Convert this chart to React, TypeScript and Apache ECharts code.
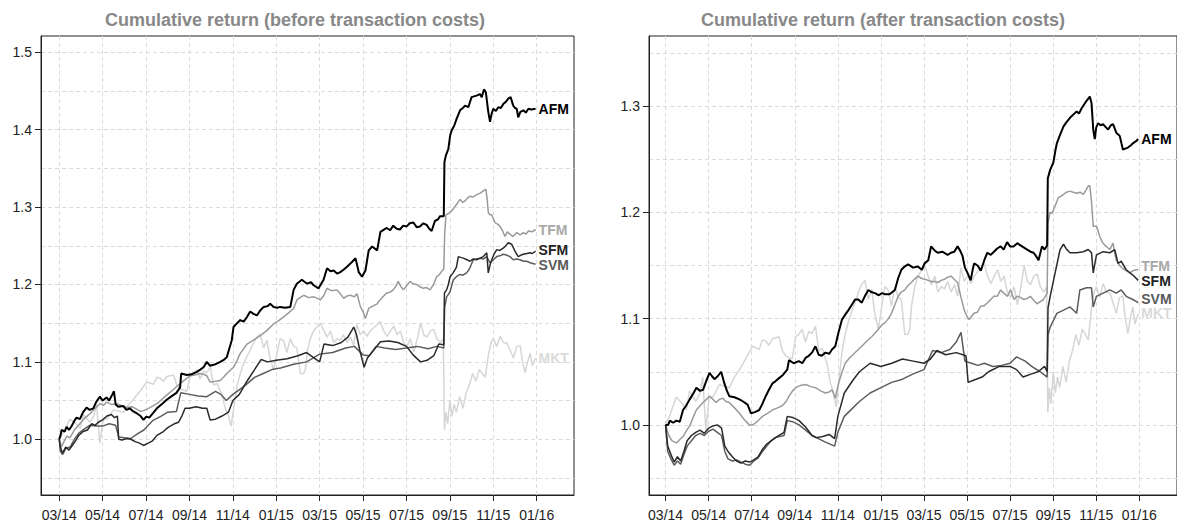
import { useEffect, useRef } from 'react';
import * as echarts from 'echarts';

// x values are months since March 2014 (0 = 03/14), y values are cumulative returns
const monthLabels = ['03/14', '05/14', '07/14', '09/14', '11/14', '01/15', '03/15', '05/15', '07/15', '09/15', '11/15', '01/16'];
const seriesNames = ['AFM', 'TFM', 'SFM', 'SVM', 'MKT'];
const titles = ['Cumulative return (before transaction costs)', 'Cumulative return (after transaction costs)'];
const yGridLeft = [0.95, 1.0, 1.05, 1.1, 1.15, 1.2, 1.25, 1.3, 1.35, 1.4, 1.45, 1.5];
const yTicksLeft = [1.0, 1.1, 1.2, 1.3, 1.4, 1.5];
const yGridRight = [0.95, 1.0, 1.05, 1.1, 1.15, 1.2, 1.25, 1.3, 1.35];
const yTicksRight = [1.0, 1.1, 1.2, 1.3];

const afmBefore = [[0,1.000],[0.05,1.004],[0.11,1.012],[0.25,1.010],[0.34,1.016],[0.45,1.012],[0.57,1.017],[0.7,1.024],[0.8,1.028],[0.95,1.026],[1.1,1.035],[1.26,1.041],[1.4,1.038],[1.57,1.040],[1.7,1.048],[1.87,1.055],[2.0,1.050],[2.18,1.054],[2.3,1.050],[2.45,1.058],[2.52,1.062],[2.6,1.045],[2.72,1.042],[2.95,1.043],[3.1,1.038],[3.25,1.040],[3.41,1.036],[3.6,1.033],[3.75,1.030],[3.88,1.025],[4.0,1.029],[4.15,1.028],[4.33,1.034],[4.5,1.040],[4.75,1.046],[4.95,1.051],[5.2,1.056],[5.4,1.060],[5.57,1.067],[5.62,1.085],[5.88,1.083],[6.1,1.084],[6.34,1.087],[6.5,1.09],[6.65,1.093],[6.8,1.100],[6.95,1.095],[7.2,1.097],[7.42,1.100],[7.6,1.103],[7.72,1.106],[7.95,1.128],[8.03,1.145],[8.2,1.15],[8.34,1.154],[8.5,1.152],[8.65,1.158],[8.8,1.165],[8.95,1.162],[9.11,1.160],[9.25,1.166],[9.42,1.171],[9.6,1.172],[9.72,1.175],[9.88,1.171],[10.05,1.17],[10.18,1.171],[10.4,1.17],[10.65,1.171],[10.8,1.193],[10.95,1.201],[11.18,1.206],[11.42,1.201],[11.6,1.203],[11.72,1.199],[11.95,1.195],[12.18,1.206],[12.34,1.221],[12.5,1.217],[12.65,1.218],[12.8,1.214],[12.95,1.216],[13.1,1.219],[13.26,1.223],[13.49,1.229],[13.65,1.234],[13.8,1.216],[13.95,1.210],[14.11,1.218],[14.26,1.244],[14.42,1.249],[14.65,1.244],[14.8,1.268],[15.09,1.273],[15.25,1.270],[15.39,1.276],[15.55,1.272],[15.7,1.271],[15.85,1.276],[16.01,1.275],[16.15,1.279],[16.32,1.280],[16.47,1.274],[16.62,1.275],[16.78,1.279],[16.93,1.277],[17.05,1.272],[17.16,1.269],[17.31,1.282],[17.45,1.284],[17.54,1.288],[17.72,1.288],[17.75,1.358],[17.81,1.366],[17.93,1.375],[18.01,1.392],[18.08,1.399],[18.2,1.405],[18.31,1.414],[18.47,1.425],[18.6,1.428],[18.7,1.431],[18.85,1.429],[19.0,1.442],[19.23,1.444],[19.39,1.446],[19.47,1.442],[19.57,1.452],[19.66,1.448],[19.77,1.423],[19.85,1.410],[19.92,1.42],[20.0,1.427],[20.12,1.424],[20.23,1.429],[20.35,1.428],[20.46,1.433],[20.58,1.436],[20.69,1.440],[20.8,1.442],[20.92,1.431],[21.0,1.428],[21.08,1.427],[21.15,1.416],[21.25,1.423],[21.39,1.425],[21.5,1.422],[21.62,1.427],[21.75,1.426],[21.95,1.427]];

const tfmBefore = [[0,1.0],[0.1,0.99],[0.2,0.996],[0.35,1.004],[0.5,1.002],[0.7,1.012],[0.95,1.02],[1.2,1.028],[1.42,1.033],[1.65,1.04],[1.88,1.046],[2.05,1.044],[2.18,1.048],[2.4,1.045],[2.65,1.046],[2.9,1.043],[3.11,1.041],[3.35,1.042],[3.57,1.039],[3.75,1.036],[3.88,1.037],[4.05,1.039],[4.18,1.041],[4.5,1.046],[4.75,1.052],[4.95,1.057],[5.25,1.064],[5.57,1.072],[5.8,1.077],[6.03,1.082],[6.25,1.083],[6.49,1.085],[6.65,1.084],[6.8,1.082],[6.95,1.074],[7.2,1.075],[7.42,1.076],[7.6,1.081],[7.72,1.085],[8.03,1.093],[8.2,1.102],[8.34,1.111],[8.5,1.117],[8.65,1.123],[8.95,1.128],[9.26,1.134],[9.55,1.14],[9.88,1.149],[10.1,1.153],[10.34,1.158],[10.55,1.163],[10.8,1.169],[10.95,1.180],[11.1,1.183],[11.26,1.186],[11.5,1.183],[11.72,1.184],[11.9,1.182],[12.03,1.180],[12.2,1.186],[12.34,1.195],[12.55,1.192],[12.8,1.193],[12.95,1.188],[13.11,1.182],[13.25,1.185],[13.42,1.186],[13.6,1.184],[13.72,1.188],[13.88,1.171],[14.0,1.165],[14.11,1.156],[14.26,1.169],[14.45,1.172],[14.65,1.175],[14.78,1.180],[14.95,1.185],[15.09,1.189],[15.25,1.19],[15.39,1.193],[15.52,1.198],[15.62,1.204],[15.75,1.197],[15.86,1.193],[16.0,1.198],[16.16,1.204],[16.3,1.201],[16.47,1.200],[16.62,1.197],[16.78,1.195],[16.93,1.196],[17.08,1.193],[17.25,1.2],[17.39,1.210],[17.5,1.212],[17.62,1.217],[17.72,1.22],[17.76,1.265],[17.82,1.290],[17.95,1.292],[18.08,1.295],[18.24,1.301],[18.35,1.305],[18.47,1.310],[18.6,1.306],[18.7,1.308],[18.82,1.312],[18.93,1.314],[19.08,1.313],[19.23,1.316],[19.4,1.318],[19.54,1.321],[19.66,1.323],[19.72,1.31],[19.77,1.293],[19.85,1.29],[19.93,1.290],[20.0,1.285],[20.08,1.280],[20.2,1.278],[20.31,1.275],[20.42,1.27],[20.54,1.262],[20.65,1.268],[20.77,1.265],[20.9,1.262],[21.08,1.267],[21.23,1.264],[21.39,1.267],[21.5,1.265],[21.62,1.269],[21.78,1.268],[21.95,1.271]];

const sfmBefore = [[0,1.0],[0.05,0.99],[0.15,0.982],[0.3,0.99],[0.45,0.986],[0.6,0.992],[0.75,0.998],[0.9,1.005],[1.1,1.01],[1.3,1.012],[1.5,1.02],[1.65,1.018],[1.8,1.022],[2.0,1.025],[2.2,1.03],[2.4,1.032],[2.55,1.028],[2.68,1.03],[2.74,1.0],[2.9,0.999],[3.1,1.001],[3.3,1.0],[3.5,0.997],[3.7,0.995],[3.88,0.992],[4.1,0.995],[4.3,0.998],[4.5,1.005],[4.8,1.01],[5.0,1.015],[5.3,1.02],[5.5,1.022],[5.65,1.03],[5.8,1.04],[6.0,1.04],[6.3,1.042],[6.6,1.04],[6.8,1.04],[6.95,1.025],[7.2,1.026],[7.5,1.03],[7.8,1.035],[8.0,1.05],[8.3,1.058],[8.65,1.075],[9.0,1.09],[9.3,1.103],[9.6,1.1],[10.0,1.102],[10.5,1.104],[11.0,1.108],[11.4,1.112],[11.8,1.104],[12.0,1.1],[12.2,1.123],[12.6,1.121],[13.0,1.125],[13.3,1.132],[13.57,1.145],[13.7,1.135],[13.85,1.115],[14.05,1.093],[14.2,1.105],[14.4,1.112],[14.8,1.126],[15.2,1.127],[15.6,1.125],[16.0,1.12],[16.34,1.108],[16.65,1.1],[16.95,1.102],[17.26,1.108],[17.49,1.123],[17.72,1.122],[17.75,1.189],[17.85,1.193],[17.93,1.2],[18.01,1.210],[18.15,1.215],[18.3,1.222],[18.39,1.236],[18.5,1.235],[18.62,1.234],[18.78,1.232],[18.93,1.230],[19.08,1.233],[19.23,1.232],[19.39,1.234],[19.54,1.236],[19.7,1.241],[19.77,1.215],[19.85,1.225],[19.93,1.232],[20.05,1.24],[20.16,1.245],[20.3,1.244],[20.46,1.247],[20.58,1.25],[20.69,1.254],[20.85,1.252],[21.0,1.243],[21.15,1.236],[21.28,1.238],[21.39,1.239],[21.55,1.24],[21.69,1.241],[21.8,1.24],[21.95,1.243]];

const svmBefore = [[0,1.0],[0.05,0.985],[0.15,0.98],[0.3,0.988],[0.5,0.99],[0.7,1.0],[0.9,1.008],[1.1,1.012],[1.4,1.018],[1.7,1.017],[2.0,1.017],[2.3,1.02],[2.6,1.018],[2.74,1.003],[3.0,1.002],[3.3,1.001],[3.6,1.007],[3.9,1.012],[4.3,1.024],[4.7,1.03],[5.0,1.035],[5.4,1.036],[5.6,1.06],[6.0,1.058],[6.4,1.056],[6.8,1.055],[7.2,1.062],[7.45,1.058],[7.7,1.05],[8.0,1.058],[8.5,1.068],[9.0,1.08],[9.4,1.085],[9.8,1.09],[10.2,1.092],[10.8,1.097],[11.4,1.1],[12.0,1.11],[12.6,1.112],[13.2,1.118],[13.6,1.12],[14.0,1.109],[14.3,1.108],[14.6,1.12],[15.0,1.118],[15.5,1.116],[16.0,1.118],[16.5,1.12],[17.0,1.117],[17.4,1.12],[17.72,1.118],[17.76,1.17],[17.85,1.184],[18.0,1.19],[18.16,1.206],[18.3,1.21],[18.47,1.213],[18.6,1.212],[18.77,1.215],[18.9,1.22],[19.08,1.232],[19.23,1.233],[19.39,1.234],[19.55,1.233],[19.7,1.236],[19.85,1.228],[20.0,1.232],[20.16,1.236],[20.3,1.237],[20.46,1.239],[20.6,1.238],[20.77,1.236],[20.92,1.232],[21.08,1.233],[21.23,1.232],[21.4,1.23],[21.54,1.230],[21.7,1.228],[21.95,1.226]];

const mkt = [[0,1.0],[0.18,1.008],[0.49,1.026],[0.74,1.021],[0.97,1.014],[1.11,1.032],[1.41,1.022],[1.6,1.03],[1.72,1.045],[1.87,0.995],[2.03,1.027],[2.2,1.026],[2.5,1.038],[2.96,1.035],[3.2,1.045],[3.43,1.052],[3.72,1.062],[4.04,1.074],[4.35,1.071],[4.49,1.08],[4.65,1.079],[4.8,1.075],[4.96,1.081],[5.11,1.082],[5.27,1.083],[5.42,1.07],[5.58,1.065],[5.88,1.062],[6.04,1.083],[6.18,1.085],[6.34,1.09],[6.49,1.078],[6.65,1.088],[6.8,1.086],[6.96,1.093],[7.11,1.07],[7.27,1.072],[7.49,1.058],[7.65,1.04],[7.8,1.03],[7.92,1.017],[8.05,1.042],[8.2,1.07],[8.34,1.085],[8.5,1.098],[8.65,1.107],[8.8,1.115],[8.96,1.125],[9.1,1.132],[9.26,1.136],[9.42,1.118],[9.57,1.128],[9.72,1.104],[9.88,1.09],[10.03,1.11],[10.18,1.13],[10.34,1.127],[10.49,1.112],[10.65,1.13],[10.8,1.12],[10.95,1.118],[11.11,1.085],[11.26,1.085],[11.34,1.09],[11.42,1.112],[11.57,1.13],[11.72,1.14],[11.87,1.145],[12.03,1.15],[12.2,1.14],[12.34,1.132],[12.5,1.14],[12.65,1.125],[12.8,1.13],[12.95,1.128],[13.1,1.135],[13.26,1.125],[13.42,1.132],[13.56,1.121],[13.72,1.148],[13.87,1.135],[14.03,1.14],[14.18,1.133],[14.33,1.14],[14.49,1.144],[14.64,1.148],[14.8,1.152],[14.95,1.14],[15.11,1.133],[15.26,1.14],[15.42,1.146],[15.57,1.135],[15.72,1.14],[15.87,1.125],[16.03,1.12],[16.18,1.13],[16.34,1.113],[16.5,1.13],[16.65,1.15],[16.8,1.135],[16.95,1.132],[17.1,1.14],[17.26,1.142],[17.4,1.13],[17.57,1.125],[17.7,1.13],[17.75,1.012],[17.82,1.035],[17.9,1.02],[18.0,1.05],[18.1,1.03],[18.2,1.045],[18.3,1.035],[18.45,1.055],[18.6,1.04],[18.75,1.06],[18.9,1.07],[19.05,1.085],[19.2,1.075],[19.35,1.09],[19.5,1.085],[19.63,1.08],[19.78,1.11],[19.9,1.125],[20.01,1.13],[20.16,1.12],[20.32,1.133],[20.47,1.125],[20.63,1.124],[20.78,1.115],[20.93,1.105],[21.08,1.12],[21.24,1.121],[21.35,1.1],[21.47,1.086],[21.58,1.1],[21.7,1.111],[21.8,1.095],[21.95,1.105]];

const afmAfter = [[0,1.0],[0.12,1.0],[0.2,1.004],[0.35,1.002],[0.5,1.004],[0.66,1.003],[0.81,1.014],[0.95,1.018],[1.12,1.024],[1.3,1.03],[1.43,1.035],[1.6,1.032],[1.74,1.033],[1.9,1.042],[2.04,1.049],[2.15,1.046],[2.27,1.043],[2.43,1.046],[2.58,1.050],[2.65,1.045],[2.73,1.039],[2.85,1.032],[2.96,1.027],[3.2,1.026],[3.43,1.024],[3.6,1.022],[3.81,1.019],[3.96,1.011],[4.15,1.012],[4.35,1.014],[4.5,1.02],[4.65,1.027],[4.8,1.033],[4.96,1.039],[5.1,1.041],[5.27,1.044],[5.45,1.047],[5.65,1.052],[5.73,1.061],[5.95,1.058],[6.19,1.060],[6.35,1.058],[6.5,1.063],[6.65,1.065],[6.8,1.068],[6.96,1.074],[7.11,1.066],[7.25,1.065],[7.42,1.068],[7.6,1.067],[7.73,1.071],[7.88,1.074],[8.03,1.087],[8.19,1.099],[8.35,1.104],[8.49,1.108],[8.65,1.113],[8.8,1.118],[8.95,1.118],[9.11,1.115],[9.25,1.121],[9.42,1.127],[9.55,1.125],[9.72,1.124],[9.9,1.122],[10.05,1.124],[10.18,1.123],[10.4,1.123],[10.65,1.127],[10.8,1.138],[10.95,1.146],[11.1,1.149],[11.26,1.151],[11.5,1.148],[11.72,1.149],[11.9,1.146],[12.03,1.152],[12.2,1.155],[12.33,1.168],[12.5,1.164],[12.64,1.162],[12.85,1.163],[13.1,1.160],[13.25,1.162],[13.41,1.163],[13.56,1.168],[13.68,1.164],[13.79,1.159],[13.9,1.148],[14.02,1.143],[14.17,1.136],[14.25,1.145],[14.33,1.152],[14.49,1.15],[14.64,1.145],[14.8,1.155],[14.94,1.162],[15.1,1.16],[15.25,1.163],[15.4,1.166],[15.56,1.168],[15.7,1.165],[15.86,1.172],[16.0,1.168],[16.17,1.168],[16.33,1.171],[16.48,1.169],[16.63,1.167],[16.79,1.165],[16.95,1.163],[17.09,1.162],[17.2,1.159],[17.32,1.155],[17.48,1.168],[17.6,1.165],[17.72,1.169],[17.75,1.232],[17.86,1.240],[18.01,1.247],[18.1,1.258],[18.17,1.265],[18.3,1.272],[18.48,1.281],[18.62,1.285],[18.78,1.289],[18.93,1.292],[19.09,1.295],[19.2,1.293],[19.32,1.298],[19.45,1.302],[19.55,1.305],[19.7,1.309],[19.78,1.303],[19.86,1.278],[19.93,1.269],[20.0,1.28],[20.09,1.284],[20.2,1.282],[20.32,1.283],[20.45,1.28],[20.55,1.278],[20.68,1.282],[20.78,1.283],[20.93,1.275],[21.09,1.272],[21.17,1.265],[21.24,1.259],[21.35,1.26],[21.47,1.261],[21.6,1.263],[21.7,1.265],[21.85,1.267],[21.95,1.269]];

const tfmAfter = [[0,1.0],[0.15,0.99],[0.3,0.985],[0.51,0.983],[0.65,0.986],[0.81,0.989],[0.95,0.994],[1.12,0.999],[1.3,1.008],[1.43,1.014],[1.6,1.018],[1.74,1.021],[1.9,1.024],[2.04,1.027],[2.2,1.024],[2.35,1.021],[2.5,1.024],[2.66,1.025],[2.8,1.022],[2.96,1.021],[3.2,1.016],[3.43,1.011],[3.65,1.005],[3.89,1.0],[4.05,1.0],[4.19,1.002],[4.35,1.005],[4.5,1.008],[4.75,1.011],[4.96,1.014],[5.2,1.016],[5.42,1.018],[5.6,1.022],[5.73,1.027],[5.9,1.032],[6.04,1.035],[6.25,1.037],[6.5,1.038],[6.75,1.036],[6.96,1.035],[7.2,1.032],[7.42,1.030],[7.6,1.031],[7.73,1.033],[7.88,1.025],[8.03,1.039],[8.2,1.05],[8.34,1.058],[8.5,1.062],[8.65,1.065],[8.9,1.07],[9.11,1.074],[9.35,1.079],[9.57,1.083],[9.75,1.087],[9.88,1.090],[10.05,1.094],[10.18,1.096],[10.35,1.1],[10.49,1.105],[10.65,1.113],[10.8,1.121],[10.95,1.125],[11.11,1.127],[11.25,1.131],[11.41,1.134],[11.55,1.137],[11.72,1.140],[11.87,1.138],[12.03,1.137],[12.2,1.136],[12.33,1.135],[12.5,1.135],[12.64,1.134],[12.8,1.136],[12.95,1.137],[13.1,1.139],[13.26,1.140],[13.4,1.137],[13.56,1.134],[13.72,1.12],[13.87,1.108],[14.0,1.102],[14.1,1.099],[14.2,1.102],[14.33,1.105],[14.48,1.106],[14.64,1.112],[14.79,1.112],[14.95,1.115],[15.1,1.118],[15.25,1.121],[15.4,1.121],[15.56,1.127],[15.71,1.124],[15.87,1.121],[16.02,1.127],[16.18,1.118],[16.32,1.121],[16.48,1.12],[16.63,1.118],[16.8,1.119],[16.94,1.121],[17.1,1.117],[17.25,1.114],[17.4,1.116],[17.55,1.118],[17.72,1.124],[17.76,1.19],[17.85,1.2],[17.94,1.199],[18.09,1.206],[18.24,1.214],[18.35,1.215],[18.48,1.217],[18.62,1.219],[18.78,1.22],[18.93,1.219],[19.09,1.218],[19.25,1.219],[19.4,1.217],[19.52,1.221],[19.63,1.225],[19.7,1.225],[19.78,1.21],[19.86,1.187],[20.01,1.187],[20.17,1.177],[20.28,1.172],[20.4,1.169],[20.52,1.167],[20.63,1.165],[20.78,1.171],[20.85,1.162],[20.93,1.155],[21.08,1.15],[21.24,1.147],[21.4,1.145],[21.55,1.143],[21.7,1.145],[21.85,1.146],[21.95,1.146]];

const sfmAfter = [[0,1.0],[0.1,0.98],[0.25,0.972],[0.4,0.965],[0.55,0.97],[0.7,0.966],[0.85,0.975],[1.0,0.985],[1.2,0.99],[1.4,0.993],[1.6,0.995],[1.8,0.992],[2.0,0.997],[2.2,0.999],[2.4,1.0],[2.6,0.997],[2.75,0.98],[2.9,0.975],[3.1,0.97],[3.3,0.966],[3.5,0.964],[3.7,0.966],[3.9,0.965],[4.1,0.967],[4.3,0.97],[4.5,0.977],[4.7,0.982],[4.9,0.985],[5.1,0.988],[5.5,0.993],[5.65,1.008],[5.9,1.007],[6.2,1.004],[6.5,0.998],[6.8,0.99],[7.0,0.988],[7.3,0.989],[7.6,0.991],[7.85,0.987],[8.0,1.008],[8.3,1.03],[8.7,1.042],[9.0,1.05],[9.5,1.058],[10.0,1.055],[10.5,1.058],[11.0,1.062],[11.5,1.06],[12.0,1.058],[12.3,1.062],[12.6,1.07],[13.0,1.066],[13.5,1.068],[13.95,1.065],[14.05,1.04],[14.3,1.042],[14.7,1.045],[15.0,1.05],[15.5,1.055],[16.0,1.055],[16.3,1.052],[16.6,1.045],[17.0,1.048],[17.3,1.05],[17.6,1.055],[17.72,1.05],[17.76,1.11],[17.86,1.121],[18.09,1.143],[18.32,1.165],[18.48,1.17],[18.63,1.165],[18.78,1.162],[19.09,1.162],[19.4,1.163],[19.63,1.165],[19.78,1.162],[19.86,1.143],[20.01,1.16],[20.32,1.163],[20.63,1.162],[20.86,1.165],[21.01,1.152],[21.16,1.154],[21.39,1.146],[21.7,1.141],[21.95,1.136]];

const svmAfter = [[0,1.0],[0.1,0.975],[0.25,0.968],[0.4,0.962],[0.55,0.966],[0.7,0.963],[0.85,0.972],[1.0,0.98],[1.2,0.985],[1.4,0.99],[1.6,0.992],[1.8,0.99],[2.0,0.994],[2.2,0.996],[2.4,0.993],[2.6,0.99],[2.75,0.975],[2.9,0.968],[3.1,0.966],[3.3,0.967],[3.5,0.965],[3.7,0.963],[3.9,0.962],[4.1,0.966],[4.3,0.969],[4.5,0.975],[4.7,0.98],[4.9,0.985],[5.1,0.988],[5.5,0.99],[5.65,1.004],[5.9,1.003],[6.2,1.0],[6.5,0.995],[6.8,0.99],[7.1,0.987],[7.4,0.984],[7.85,0.98],[8.0,0.993],[8.3,1.008],[8.7,1.016],[9.0,1.022],[9.5,1.03],[10.0,1.035],[10.5,1.04],[11.0,1.043],[11.5,1.048],[12.0,1.052],[12.4,1.07],[12.8,1.068],[13.2,1.071],[13.5,1.078],[13.72,1.087],[13.9,1.06],[14.2,1.058],[14.5,1.056],[14.8,1.058],[15.2,1.055],[15.6,1.056],[16.0,1.058],[16.3,1.064],[16.7,1.06],[17.0,1.055],[17.4,1.05],[17.72,1.045],[17.76,1.085],[17.86,1.092],[18.17,1.105],[18.48,1.108],[18.78,1.111],[19.09,1.105],[19.24,1.127],[19.55,1.129],[19.78,1.129],[19.86,1.111],[20.01,1.121],[20.32,1.124],[20.63,1.127],[20.93,1.124],[21.16,1.127],[21.39,1.121],[21.7,1.118],[21.95,1.115]];

const panelData = [
  [afmBefore, tfmBefore, sfmBefore, svmBefore, mkt],
  [afmAfter, tfmAfter, sfmAfter, svmAfter, mkt],
];

const FONT = '"Liberation Sans", Arial, Helvetica, sans-serif';
const lineColors: Record<string, string> = { AFM: '#000000', TFM: '#9a9a9a', SFM: '#2a2a2a', SVM: '#5c5c5c', MKT: '#d6d6d6' };
const labelColors: Record<string, string> = { AFM: '#000000', TFM: '#a8a8a8', SFM: '#222222', SVM: '#5a5a5a', MKT: '#dadada' };
const lineWidths: Record<string, number> = { AFM: 2, TFM: 1.5, SFM: 1.5, SVM: 1.5, MKT: 1.5 };
// small vertical nudges (px) that keep neighbouring end labels apart
const labelNudges: Record<string, number>[] = [
  { AFM: 0, TFM: 0, SFM: -1.5, SVM: 1, MKT: 0 },
  { AFM: 0, TFM: -3.5, SFM: 0.8, SVM: -4, MKT: -0.5 },
];
const drawOrder = ['MKT', 'TFM', 'SVM', 'SFM', 'AFM'];

const grids = [
  { left: 41, top: 36, width: 533, height: 459, xMin: -0.84, xMax: 23.72, yMin: 0.928, yMax: 1.521, yGrid: yGridLeft, yTicks: yTicksLeft, titleX: 295 },
  { left: 649, top: 36, width: 532, height: 459, xMin: -0.77, xMax: 23.75, yMin: 0.934, yMax: 1.366, yGrid: yGridRight, yTicks: yTicksRight, titleX: 883 },
];

const tickPositions = monthLabels.map((_, i) => i * 2);
const dashed = { color: '#dcdcdc', width: 1, type: [4, 3] as number[] };

function buildOption() {
  const xAxis: any[] = [];
  const yAxis: any[] = [];
  const series: any[] = [];
  grids.forEach((g, gi) => {
    xAxis.push({
      type: 'value', gridIndex: gi, min: g.xMin, max: g.xMax,
      axisLine: { show: true, onZero: false, lineStyle: { color: '#222', width: 1 } },
      axisTick: { show: true, length: 6, customValues: tickPositions, lineStyle: { color: '#222' } },
      axisLabel: {
        customValues: tickPositions, margin: 13, fontSize: 14, lineHeight: 14, color: '#222', fontFamily: FONT,
        formatter: (v: number) => monthLabels[Math.round(v / 2)] ?? '',
      },
      splitLine: { show: true, lineStyle: dashed },
    });
    yAxis.push({
      type: 'value', gridIndex: gi, min: g.yMin, max: g.yMax, position: 'left',
      axisLine: { show: false },
      axisTick: { show: false, customValues: g.yGrid },
      axisLabel: { show: false, customValues: g.yGrid },
      splitLine: { show: true, lineStyle: dashed },
    });
    yAxis.push({
      type: 'value', gridIndex: gi, min: g.yMin, max: g.yMax, position: 'left',
      axisLine: { show: true, onZero: false, lineStyle: { color: '#222', width: 1 } },
      axisTick: { show: true, length: 6, customValues: g.yTicks, lineStyle: { color: '#222' } },
      axisLabel: {
        customValues: g.yTicks, margin: 9, fontSize: 14, color: '#222', fontFamily: FONT,
        formatter: (v: number) => v.toFixed(1),
      },
      splitLine: { show: false },
    });
    drawOrder.forEach((name, k) => {
      const idx = seriesNames.indexOf(name);
      series.push({
        type: 'line', name, xAxisIndex: gi, yAxisIndex: gi * 2 + 1,
        data: panelData[gi][idx],
        showSymbol: false, symbol: 'none', z: 2 + k,
        lineStyle: { color: lineColors[name], width: lineWidths[name] },
        itemStyle: { color: lineColors[name] },
        emphasis: { disabled: true },
        endLabel: {
          show: true, formatter: name, color: labelColors[name], fontWeight: 'bold',
          fontSize: 14, lineHeight: 12, fontFamily: FONT, distance: 3,
          offset: [0, labelNudges[gi][name]],
        },
      });
    });
  });
  return {
    animation: false,
    backgroundColor: '#ffffff',
    grid: grids.map((g) => ({
      left: g.left, top: g.top, width: g.width, height: g.height,
      show: true, borderColor: '#222', borderWidth: 1, backgroundColor: 'transparent',
    })),
    xAxis, yAxis, series,
    graphic: grids.map((g, gi) => ({
      type: 'text', x: g.titleX, y: 20,
      style: {
        text: titles[gi], fill: '#888888', fontSize: 18, fontWeight: 'bold', fontFamily: FONT,
        align: 'center', verticalAlign: 'middle', textAlign: 'center', textVerticalAlign: 'middle',
      },
    })),
  };
}

export default function App() {
  const ref = useRef<HTMLDivElement>(null);
  useEffect(() => {
    if (!ref.current) return;
    const chart = echarts.init(ref.current, null, { renderer: 'svg' });
    chart.setOption(buildOption());
    return () => chart.dispose();
  }, []);
  return <div ref={ref} style={{ position: 'fixed', left: 0, top: 0, width: 1177, height: 523, background: '#fff' }} />;
}
